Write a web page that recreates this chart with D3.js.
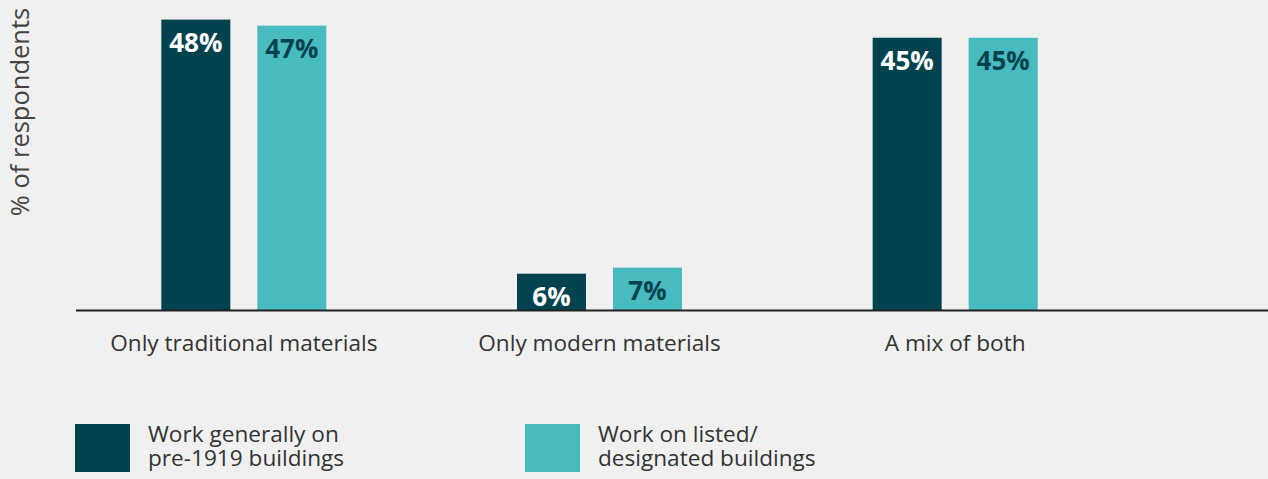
<!DOCTYPE html>
<html>
<head>
<meta charset="utf-8">
<script src="https://cdn.jsdelivr.net/npm/d3@7"></script>
<style>
  html, body { margin: 0; padding: 0; background: #f0f0f0; }
  svg { display: block; font-family: "Open Sans", sans-serif; }
</style>
</head>
<body>
<svg id="chart" width="1268" height="479"></svg>
<script>
// Materials used, by type of building worked on
const categories = ["Only traditional materials", "Only modern materials", "A mix of both"];
const seriesNames = ["Work generally on pre-1919 buildings", "Work on listed/ designated buildings"];
const pre1919 = [48, 6, 45];
const listed = [47, 7, 45];
const legendLines = [["Work generally on", "pre-1919 buildings"], ["Work on listed/", "designated buildings"]];

const colors = ["#03434f", "#48bbc1"];
const labelColors = ["#ffffff", "#03434f"];

const svg = d3.select("#chart");
const baseY = 310;

const x0 = d3.scaleBand().domain(categories).range([66, 1133]).padding(0);
const x1 = d3.scaleBand().domain(seriesNames).range([-82.5, 82.5]).paddingInner(27 / 96).paddingOuter(0);
const y = d3.scaleLinear().domain([0, 48]).range([baseY, 19.6]);

const rows = categories.map((c, i) => ({
  category: c,
  values: [
    { series: seriesNames[0], value: pre1919[i], idx: 0 },
    { series: seriesNames[1], value: listed[i], idx: 1 }
  ]
}));

const groups = svg.append("g").selectAll("g")
  .data(rows).join("g")
  .attr("transform", d => `translate(${x0(d.category) + x0.bandwidth() / 2},0)`);

groups.selectAll("rect")
  .data(d => d.values).join("rect")
  .attr("x", d => x1(d.series))
  .attr("width", x1.bandwidth())
  .attr("y", d => y(d.value))
  .attr("height", d => baseY - y(d.value))
  .attr("fill", d => colors[d.idx]);

groups.selectAll("text.val")
  .data(d => d.values).join("text")
  .attr("class", "val")
  .attr("x", d => x1(d.series) + x1.bandwidth() / 2)
  .attr("y", d => y(d.value) + 32)
  .attr("text-anchor", "middle")
  .attr("font-size", 26)
  .attr("font-weight", 700)
  .attr("fill", d => labelColors[d.idx])
  .text(d => d.value + "%");

// Category axis
const xAxis = d3.axisBottom(x0).tickSize(0).tickPadding(0);
const axisG = svg.append("g").attr("transform", `translate(0,${baseY})`).call(xAxis);
axisG.select(".domain").remove();
axisG.selectAll("text")
  .attr("font-family", "Open Sans, sans-serif")
  .attr("font-size", 22.6)
  .attr("fill", "#333")
  .attr("dy", null)
  .attr("y", 41);

svg.append("line")
  .attr("x1", 76).attr("x2", 1268)
  .attr("y1", baseY + 0.5).attr("y2", baseY + 0.5)
  .attr("stroke", "#222").attr("stroke-width", 2);

// Axis title
svg.append("text")
  .attr("transform", "translate(29,112) rotate(-90)")
  .attr("text-anchor", "middle")
  .attr("font-size", 25.5)
  .attr("fill", "#444")
  .text("% of respondents");

// Legend: swatch plus two-line caption per series
const legendX = [75, 525];
const legend = svg.append("g").selectAll("g")
  .data(seriesNames).join("g")
  .attr("transform", (d, i) => `translate(${legendX[i]},424)`);
legend.append("rect")
  .attr("width", 55).attr("height", 48)
  .attr("fill", (d, i) => colors[i]);
legend.each(function (d, i) {
  d3.select(this).selectAll("text")
    .data(legendLines[i]).join("text")
    .attr("x", 73)
    .attr("y", (t, j) => 18 + j * 24)
    .attr("font-size", 22.6)
    .attr("fill", "#333")
    .text(t => t);
});
</script>
</body>
</html>
